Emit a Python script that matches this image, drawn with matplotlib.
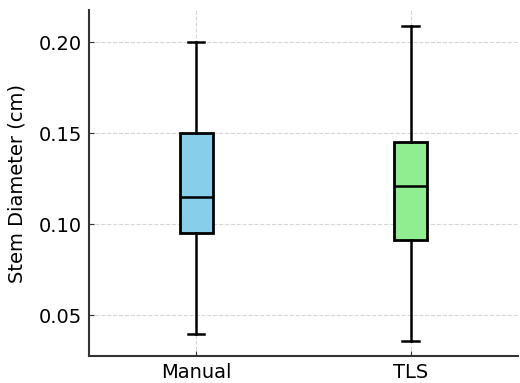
import matplotlib
matplotlib.use("Agg")
import matplotlib.pyplot as plt

# values
labels = ["Manual", "TLS"]
whislo = [0.0399, 0.0361]
q1 = [0.0954, 0.0912]
med = [0.1152, 0.1209]
q3 = [0.1500, 0.1454]
whishi = [0.2003, 0.2090]
colors = ["skyblue", "lightgreen"]

stats = []
for i in range(len(labels)):
    stats.append({"label": labels[i], "whislo": whislo[i], "q1": q1[i],
                  "med": med[i], "q3": q3[i], "whishi": whishi[i], "fliers": []})

fig, ax = plt.subplots(figsize=(5.2, 3.83), dpi=100)
bp = ax.bxp(stats, widths=0.155, patch_artist=True, showfliers=False,
            boxprops=dict(linewidth=2, edgecolor="black"),
            medianprops=dict(color="black", linewidth=1.8),
            whiskerprops=dict(color="black", linewidth=1.8),
            capprops=dict(color="black", linewidth=1.8))
for patch, c in zip(bp["boxes"], colors):
    patch.set_facecolor(c)

ax.set_ylabel("Stem Diameter (cm)", fontsize=14, labelpad=9)
ax.set_xlim(0.5, 2.5)
ax.set_ylim(0.0275, 0.2177)
ax.set_yticks([0.05, 0.10, 0.15, 0.20])
ax.tick_params(labelsize=14, direction="in", color="#333333", pad=5)
ax.grid(True, linestyle="--", color="lightgray", alpha=0.9)
ax.set_axisbelow(True)
for s in ["top", "right"]:
    ax.spines[s].set_visible(False)
for s in ["left", "bottom"]:
    ax.spines[s].set_color("#333333")
    ax.spines[s].set_linewidth(1.5)

fig.subplots_adjust(left=0.171, right=0.996, bottom=0.07, top=0.974)
fig.savefig("out.png", dpi=100)
